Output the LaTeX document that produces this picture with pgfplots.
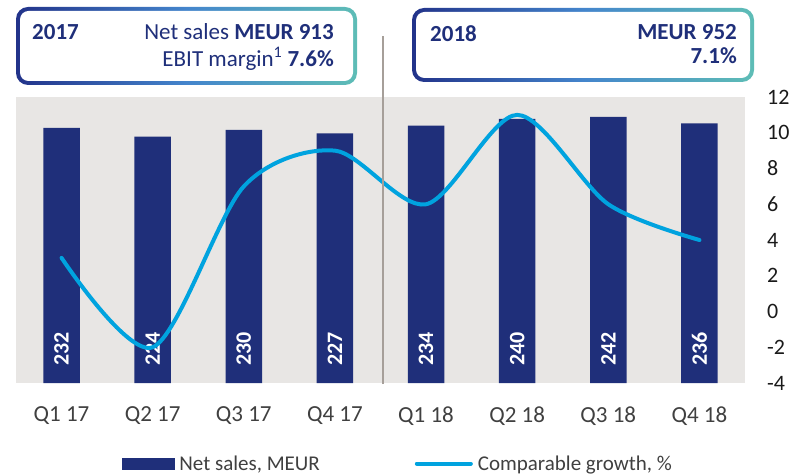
\documentclass[border=0pt]{standalone}
\usepackage{pgfplots}
\pgfplotsset{compat=1.18}
\usepackage{fontspec}
\setmainfont{Carlito}
\definecolor{navy}{HTML}{1F2F7A}
\definecolor{lblue}{HTML}{00A3DF}
\definecolor{bggray}{HTML}{E8E6E4}
\definecolor{sepgray}{HTML}{A69F99}
\definecolor{bnavy}{HTML}{22338A}
\definecolor{bblue}{HTML}{4485CC}
\definecolor{bteal}{HTML}{5EBDB6}
\definecolor{txtnavy}{HTML}{1F2F7A}
\definecolor{xgray}{HTML}{404040}
\definecolor{tickblack}{HTML}{1A1A1A}
\begin{document}
\begin{tikzpicture}[x=1pt,y=1pt]
\useasboundingbox (0,0) rectangle (792,474);
% header boxes
\shade[left color=bnavy,right color=bteal,middle color=bblue,rounded corners=12pt] (16,389) rectangle (357,467);
\fill[white,rounded corners=8.5pt] (20,393) rectangle (353,463);
\shade[left color=bnavy,right color=bteal,middle color=bblue,rounded corners=12pt] (412,392) rectangle (754,466);
\fill[white,rounded corners=8.5pt] (416,396) rectangle (750,462);
\begin{scope}[every node/.style={inner sep=0pt,text=txtnavy,font=\fontsize{23}{27}\selectfont}]
\node[anchor=base west] at (32,434.7) {\textbf{2017}};
\node[anchor=base east] at (334,434.7) {Net sales \textbf{MEUR 913}};
\node[anchor=base east] at (334,407.3) {EBIT margin\textsuperscript{1} \textbf{7.6\%}};
\node[anchor=base west] at (430,432.3) {\textbf{2018}};
\node[anchor=base east] at (737,434.7) {\textbf{MEUR 952}};
\node[anchor=base east] at (737,410.7) {\textbf{7.1\%}};
\end{scope}
\begin{axis}[at={(16pt,91pt)}, anchor=south west, scale only axis,
  width=729pt, height=286pt, xmin=-0.5, xmax=7.5, ymin=0, ymax=260,
  axis background/.style={fill=bggray}, axis line style={draw=none},
  ytick=\empty, xtick={0,...,7},
  xticklabels={Q1 17,Q2 17,Q3 17,Q4 17,Q1 18,Q2 18,Q3 18,Q4 18},
  major tick length=0pt,
  x tick label style={font=\fontsize{23}{27}\selectfont, text=xgray, inner sep=0pt, anchor=north, yshift=-23.5pt},
  clip=false]
\addplot[ybar, bar width=36.5pt, fill=navy, draw=none,
  nodes near coords={\pgfmathprintnumber[assume math mode=true]{\pgfplotspointmeta}},
  nodes near coords align=horizontal,
  visualization depends on={y \as \rawy},
  every node near coord/.append style={font=\bfseries\fontsize{22}{26}\selectfont, text=white, inner sep=0pt,
    shift={(axis direction cs:0,-\rawy)}, yshift=17pt, rotate=90, anchor=west}]
  coordinates {(0,232) (1,224) (2,230) (3,227) (4,234) (5,240) (6,242) (7,236)};
\end{axis}
\begin{axis}[at={(16pt,91pt)}, anchor=south west, scale only axis,
  width=729pt, height=286pt, xmin=-0.5, xmax=7.5, ymin=-4, ymax=12,
  axis y line*=right, axis x line=none, axis line style={draw=none},
  ytick={-4,-2,0,2,4,6,8,10,12}, yticklabels={-4,-2,0,2,4,6,8,10,12},
  major tick length=0pt,
  y tick label style={font=\fontsize{22}{26}\selectfont, text=tickblack, anchor=west, inner sep=0pt, xshift=22pt},
  legend columns=2,
  legend style={at={(axis description cs:0.5226,-0.2815)}, anchor=center, draw=none, fill=none, inner sep=0pt,
    font=\fontsize{21}{25}\selectfont, nodes={inner sep=0pt, text=xgray},
    /tikz/every odd column/.append style={column sep=5pt},
    /tikz/every even column/.append style={column sep=95pt}}]
\addlegendimage{legend image code/.code={\fill[navy] (0pt,-5.5pt) rectangle (52pt,5.5pt);}}
\addlegendentry{Net sales, MEUR}
\addplot[smooth, line width=4pt, color=lblue, line cap=round,
  legend image code/.code={\draw[line width=4pt, lblue, line cap=round] (2pt,0pt) -- (56pt,0pt);}]
  coordinates {(0,3) (1,-2) (2,7) (3,9) (4,6) (5,11) (6,6) (7,4)};
\addlegendentry{Comparable growth, \%}
\end{axis}
\draw[sepgray, line width=2pt] (383,90) -- (383,438);
\end{tikzpicture}
\end{document}
